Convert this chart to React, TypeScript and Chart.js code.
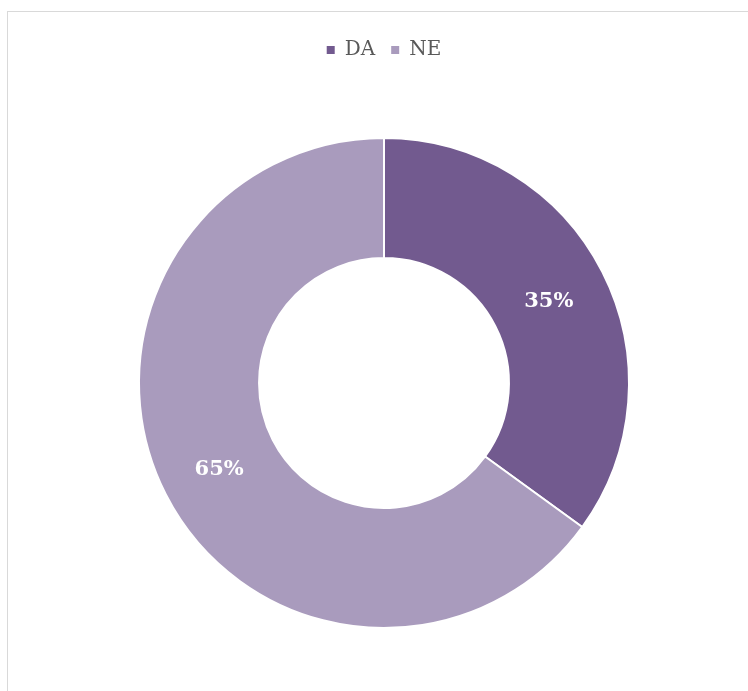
import React, { useEffect, useRef } from "react";
import { Chart, registerables } from "chart.js";

Chart.register(...registerables);

const categories = ["DA", "NE"];
const values = [35, 65];
const colors = ["#725a8f", "#a99bbd"];
const valueLabels = ["35%", "65%"];

const legendGap = {
  id: "legendGap",
  beforeInit(chart: any) {
    const legend = chart.legend;
    if (!legend) return;
    const fit = legend.fit;
    legend.fit = function () {
      fit.call(this);
      this.height += 67;
    };
  },
};

const arcLabels = {
  id: "arcLabels",
  afterDatasetsDraw(chart: any) {
    const ctx = chart.ctx;
    const meta = chart.getDatasetMeta(0);
    ctx.save();
    ctx.fillStyle = "#ffffff";
    ctx.font = "bold 21px 'DejaVu Serif'";
    ctx.textAlign = "center";
    ctx.textBaseline = "middle";
    meta.data.forEach((arc: any, i: number) => {
      const p = arc.tooltipPosition();
      ctx.fillText(valueLabels[i], p.x, p.y + 3);
    });
    ctx.restore();
  },
};

export default function App() {
  const ref = useRef<HTMLCanvasElement>(null);
  useEffect(() => {
    if (!ref.current) return;
    const chart = new Chart(ref.current, {
      type: "doughnut",
      data: {
        labels: categories,
        datasets: [
          {
            data: values,
            backgroundColor: colors,
            borderColor: "#ffffff",
            borderWidth: 2,
          },
        ],
      },
      options: {
        responsive: false,
        animation: false,
        cutout: "51%",
        layout: { padding: { top: 12, bottom: 83 } },
        plugins: {
          tooltip: { enabled: false },
          legend: {
            position: "top",
            labels: {
              boxWidth: 8,
              boxHeight: 8,
              padding: 16,
              color: "#595959",
              font: { family: "'DejaVu Serif'", size: 20 },
              generateLabels(chart: any) {
                const items = Chart.overrides.doughnut.plugins.legend.labels.generateLabels(chart);
                return items.map((it: any) => ({ ...it, lineWidth: 0, strokeStyle: it.fillStyle }));
              },
            },
          },
        },
      },
      plugins: [legendGap, arcLabels],
    });
    return () => chart.destroy();
  }, []);
  return (
    <div
      style={{
        position: "fixed",
        left: 0,
        top: 0,
        width: 748,
        height: 691,
        overflow: "hidden",
        background: "#fff",
      }}
    >
      <div
        style={{
          position: "absolute",
          left: 7,
          top: 11,
          width: 752,
          height: 700,
          border: "1px solid #d9d9d9",
          background: "#fff",
        }}
      >
        <canvas ref={ref} width={752} height={700} style={{ display: "block" }} />
      </div>
    </div>
  );
}
